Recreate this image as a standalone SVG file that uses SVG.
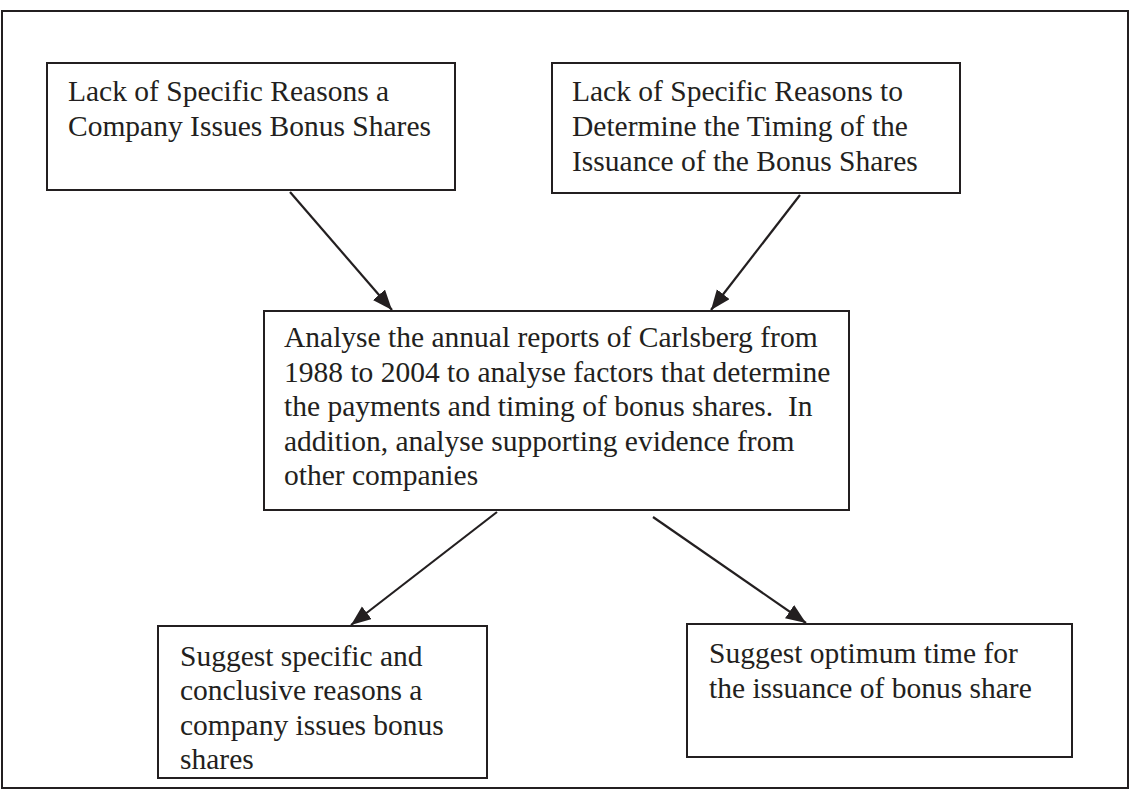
<svg xmlns="http://www.w3.org/2000/svg" width="1147" height="792" viewBox="0 0 1147 792">
<style>
.box{fill:#fff;stroke:#231f20;stroke-width:2}
.t{font-family:"Liberation Serif","Times New Roman",serif;font-size:29.5px;fill:#231f20;white-space:pre}
.c{stroke:#231f20;stroke-width:2.2;fill:none}
</style>
<defs>
<marker id="ah" markerUnits="userSpaceOnUse" markerWidth="22" markerHeight="18" refX="20" refY="8" orient="auto" viewBox="0 0 22 18">
<path d="M0,0 L20,8 L0,16 z" fill="#231f20"/>
</marker>
</defs>
<rect x="2" y="11" width="1126" height="777" fill="#fff" stroke="#231f20" stroke-width="2"/>
<g id="n1">
<rect class="box" x="47" y="63" width="408" height="127"/>
<text class="t" x="68" y="101">Lack of Specific Reasons a</text>
<text class="t" x="68" y="136">Company Issues Bonus Shares</text>
</g>
<g id="n2">
<rect class="box" x="552" y="63" width="408" height="130"/>
<text class="t" x="572" y="101">Lack of Specific Reasons to</text>
<text class="t" x="572" y="136">Determine the Timing of the</text>
<text class="t" x="572" y="171">Issuance of the Bonus Shares</text>
</g>
<g id="n3">
<rect class="box" x="264" y="311" width="585" height="199"/>
<text class="t" x="284" y="347">Analyse the annual reports of Carlsberg from</text>
<text class="t" x="284" y="382">1988 to 2004 to analyse factors that determine</text>
<text class="t" x="284" y="416" xml:space="preserve">the payments and timing of bonus shares.  In</text>
<text class="t" x="284" y="451">addition, analyse supporting evidence from</text>
<text class="t" x="284" y="485">other companies</text>
</g>
<g id="n4">
<rect class="box" x="158" y="626" width="329" height="152"/>
<text class="t" x="180" y="666">Suggest specific and</text>
<text class="t" x="180" y="700">conclusive reasons a</text>
<text class="t" x="180" y="735">company issues bonus</text>
<text class="t" x="180" y="769">shares</text>
</g>
<g id="n5">
<rect class="box" x="687" y="624" width="385" height="133"/>
<text class="t" x="709" y="663">Suggest optimum time for</text>
<text class="t" x="709" y="698">the issuance of bonus share</text>
</g>
<g id="connectors">
<line class="c" x1="290" y1="192" x2="392" y2="310" marker-end="url(#ah)"/>
<line class="c" x1="800" y1="195" x2="711" y2="310" marker-end="url(#ah)"/>
<line class="c" x1="497" y1="512" x2="351" y2="625" marker-end="url(#ah)"/>
<line class="c" x1="653" y1="517" x2="806" y2="623" marker-end="url(#ah)"/>
</g>
</svg>
